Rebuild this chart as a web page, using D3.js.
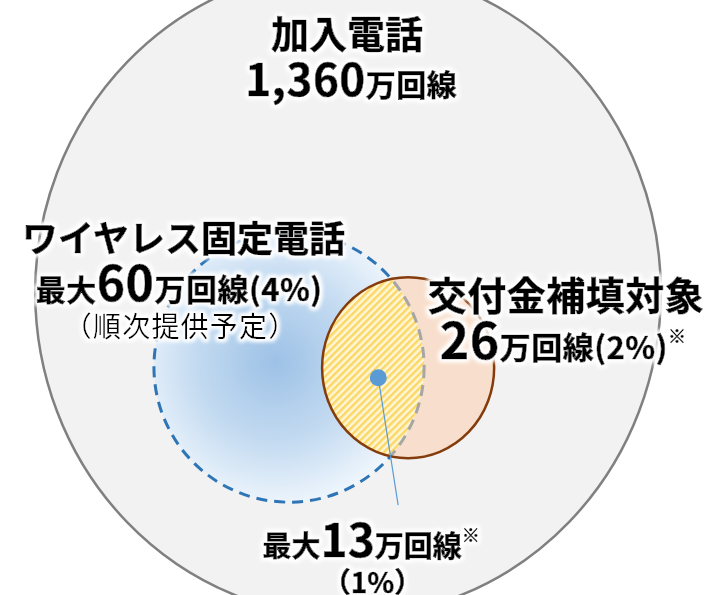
<!DOCTYPE html>
<html>
<head>
<meta charset="utf-8">
<script src="https://cdn.jsdelivr.net/npm/d3@7"></script>
<style>
  html, body { margin: 0; padding: 0; background: #fff; }
  svg { display: block; }
  text { font-family: "Noto Sans CJK JP", "Noto Sans", sans-serif; fill: #000; }
</style>
</head>
<body>
<svg id="chart" width="711" height="595"></svg>
<script>
// values (万回線) and shares (%)
const groups = ["加入電話", "ワイヤレス固定電話", "交付金補填対象", "重複"];
const lineCounts = [1360, 60, 26, 13];
const shares = [null, 4, 2, 1];
const prefixes = ["", "最大", "", "最大"];
const subNote = "（順次提供予定）";

const width = 711, height = 595;
const svg = d3.select("#chart");

// layout in a 0..100 coordinate space
let x = d3.scaleLinear().domain([0, 100]).range([0, width]);
let y = d3.scaleLinear().domain([0, 100]).range([0, height]);

const shapes = {
	total: { cx: 48.95, cy: 49.1, rx: 44.0, ry: 54.6 },
	wireless: { cx: 40.65, cy: 61.7, rx: 19.0, ry: 22.7 },
	subsidy: { cx: 57.4, cy: 61.8, rx: 12.1, ry: 15.2 }
};
function ell(sel, s) {
	return sel.attr("cx", x(s.cx)).attr("cy", y(s.cy))
		.attr("rx", x(s.rx)).attr("ry", y(s.ry));
}

const defs = svg.append("defs");

let grad = defs.append("radialGradient").attr("id", "blueGrad")
	.attr("cx", "45%").attr("cy", "48%").attr("r", "55%");
grad.append("stop").attr("offset", "0%").attr("stop-color", "#9dc1e6");
grad.append("stop").attr("offset", "55%").attr("stop-color", "#c4dbf1");
grad.append("stop").attr("offset", "100%").attr("stop-color", "#f1f7fd");

let pat = defs.append("pattern").attr("id", "hatch")
	.attr("patternUnits", "userSpaceOnUse").attr("width", 5).attr("height", 5)
	.attr("patternTransform", "rotate(45)");
pat.append("rect").attr("width", 5).attr("height", 5).attr("fill", "#fff6d8");
pat.append("rect").attr("width", 2.5).attr("height", 5).attr("fill", "#fbd866");

defs.append("clipPath").attr("id", "clipWireless")
	.append("ellipse").call(ell, shapes.wireless);
defs.append("clipPath").attr("id", "clipSubsidy")
	.append("ellipse").call(ell, shapes.subsidy);
let mask = defs.append("mask").attr("id", "outSubsidy");
mask.append("rect").attr("width", width).attr("height", height).attr("fill", "#fff");
mask.append("ellipse").call(ell, shapes.subsidy).attr("fill", "#000");

let glow = defs.append("filter").attr("id", "glow")
	.attr("x", "-10%").attr("y", "-30%").attr("width", "120%").attr("height", "160%");
glow.append("feMorphology").attr("in", "SourceAlpha").attr("operator", "dilate")
	.attr("radius", 2).attr("result", "d");
glow.append("feGaussianBlur").attr("in", "d").attr("stdDeviation", 2.2).attr("result", "b");
glow.append("feFlood").attr("flood-color", "#fff");
glow.append("feComposite").attr("in2", "b").attr("operator", "in").attr("result", "g");
let merge = glow.append("feMerge");
merge.append("feMergeNode").attr("in", "g");
merge.append("feMergeNode").attr("in", "g");
merge.append("feMergeNode").attr("in", "SourceGraphic");

// 加入電話
svg.append("ellipse").call(ell, shapes.total)
	.attr("fill", "#f2f2f2").attr("stroke", "#808080").attr("stroke-width", 2.5);

// ワイヤレス固定電話
svg.append("ellipse").call(ell, shapes.wireless).attr("fill", "url(#blueGrad)");

// 交付金補填対象
svg.append("ellipse").call(ell, shapes.subsidy).attr("fill", "#f8dfcd");
svg.append("ellipse").call(ell, shapes.subsidy)
	.attr("fill", "url(#hatch)").attr("clip-path", "url(#clipWireless)");

// dashed outline: blue outside, gray inside the subsidy circle
svg.append("ellipse").call(ell, shapes.wireless)
	.attr("fill", "none").attr("stroke", "#2e75b6").attr("stroke-width", 3)
	.attr("stroke-dasharray", "11,7").attr("mask", "url(#outSubsidy)");
svg.append("ellipse").call(ell, shapes.wireless)
	.attr("fill", "none").attr("stroke", "#a6a6a6").attr("stroke-width", 3)
	.attr("stroke-dasharray", "11,7").attr("clip-path", "url(#clipSubsidy)");

svg.append("ellipse").call(ell, shapes.subsidy)
	.attr("fill", "none").attr("stroke", "#843c0c").attr("stroke-width", 2.5);

// callout for overlap
svg.append("line")
	.attr("x1", x(53.2)).attr("y1", y(63.5))
	.attr("x2", x(56.0)).attr("y2", y(84.9))
	.attr("stroke", "#5b9bd5").attr("stroke-width", 1.2);
svg.append("circle").attr("cx", x(53.2)).attr("cy", y(63.5)).attr("r", 8.5)
	.attr("fill", "#5b9bd5");

// labels
const fmt = d3.format(",");
function label(px, py, parts, ls) {
	let t = svg.append("text").attr("x", x(px)).attr("y", y(py))
		.attr("text-anchor", "middle").attr("filter", "url(#glow)")
		.attr("letter-spacing", ls || 0);
	parts.forEach(p => {
		let w = p.w || 700;
		t.append("tspan").text(p.t)
			.attr("font-size", p.s).attr("font-weight", w)
			.attr("stroke", w > 400 ? "#000" : "none")
			.attr("stroke-width", 0.7)
			.attr("dy", p.dy || null);
	});
	return t;
}

label(48.8, 8.0, [{ t: groups[0], s: 38 }]);
label(49.4, 16.1, [{ t: fmt(lineCounts[0]), s: 44 }, { t: "万回線", s: 30 }], 0.5);

label(25.8, 42.4, [{ t: groups[1], s: 36 }]);
label(25.2, 50.6, [{ t: prefixes[1], s: 30 }, { t: lineCounts[1], s: 48 },
	{ t: "万回線(" + shares[1] + "%)", s: 31 }], 0.5);
label(25.4, 56.6, [{ t: subNote, s: 28, w: 400 }], 1.2);

label(79.6, 52.1, [{ t: groups[2], s: 39 }], 0.5);
label(79.2, 60.3, [{ t: lineCounts[2], s: 50 }, { t: "万回線(" + shares[2] + "%)", s: 31 },
	{ t: "※", s: 18, dy: -16 }], 0.5);

label(52.2, 93.6, [{ t: prefixes[3], s: 29 }, { t: lineCounts[3], s: 46 },
	{ t: "万回線", s: 29 }, { t: "※", s: 18, dy: -15 }]);
label(52.4, 99.6, [{ t: "（" + shares[3] + "%）", s: 28 }]);
</script>
</body>
</html>
